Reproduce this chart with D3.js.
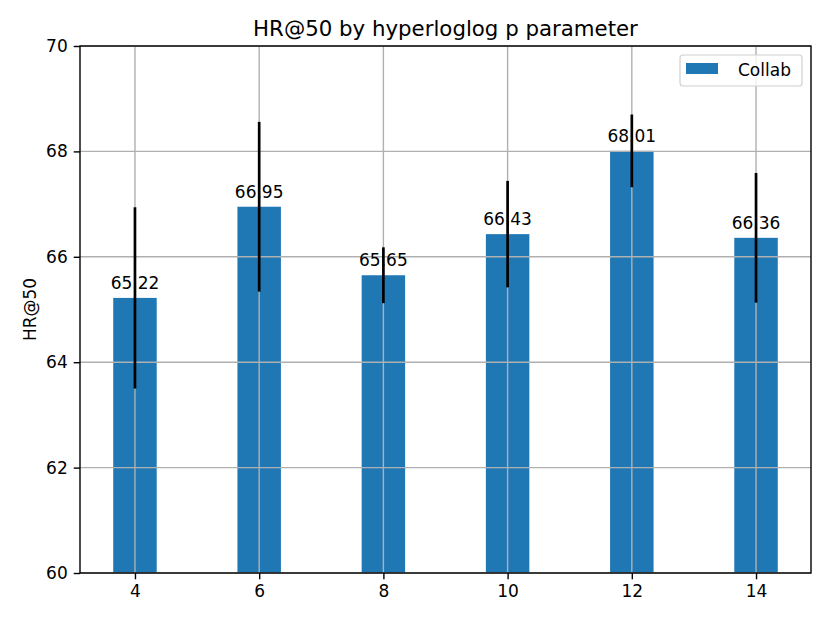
<!DOCTYPE html>
<html><head><meta charset="utf-8">
<script src="https://cdn.jsdelivr.net/npm/d3@7"></script>
<style>body{margin:0;background:#fff}svg{font-family:"DejaVu Sans",sans-serif}</style>
</head><body><svg id="c" width="830" height="623"></svg>
<script>
const categories = [4, 6, 8, 10, 12, 14];
const values = [65.22, 66.95, 65.65, 66.43, 68.01, 66.36];
const errors = [1.72, 1.61, 0.53, 1.01, 0.69, 1.23];
const yTicks = [60, 62, 64, 66, 68, 70];
const seriesName = "Collab";
const title = "HR@50 by hyperloglog p parameter";
const yLabel = "HR@50";

const svg = d3.select("#c");
const L = 80, R = 811, T = 46, B = 573;
const barW = 0.7;
const x = d3.scaleLinear().domain([3.115, 14.885]).range([L, R]);
const y = d3.scaleLinear().domain([60, 70]).range([B, T]);
const blue = "#1f77b4";
const fs = 17;

svg.append("rect").attr("width", 830).attr("height", 623).attr("fill", "#fff");

// bars
svg.append("g").selectAll("rect").data(categories).join("rect")
  .attr("x", d => x(d - barW / 2)).attr("width", d => x(d + barW / 2) - x(d - barW / 2))
  .attr("y", (d, i) => y(values[i])).attr("height", (d, i) => y(60) - y(values[i]))
  .attr("fill", blue);

// grid
const grid = svg.append("g").attr("stroke", "#b0b0b0").attr("stroke-width", 1.4);
grid.selectAll(".gx").data(categories).join("line")
  .attr("x1", d => x(d)).attr("x2", d => x(d))
  .attr("y1", T).attr("y2", B);
grid.selectAll(".gy").data(yTicks).join("line")
  .attr("x1", L).attr("x2", R)
  .attr("y1", d => y(d)).attr("y2", d => y(d));

// error bars
svg.append("g").selectAll("line").data(categories).join("line")
  .attr("x1", d => x(d)).attr("x2", d => x(d))
  .attr("y1", (d, i) => y(values[i] - errors[i])).attr("y2", (d, i) => y(values[i] + errors[i]))
  .attr("stroke", "#000").attr("stroke-width", 2.7);

// value labels
svg.append("g").selectAll("text").data(categories).join("text")
  .attr("x", d => x(d)).attr("y", (d, i) => y(values[i]) - 9)
  .attr("text-anchor", "middle").attr("font-size", fs).attr("fill", "#000")
  .text((d, i) => values[i].toFixed(2));

// axes
const xAxis = d3.axisBottom(x).tickValues(categories).tickSize(6.3).tickPadding(6).tickFormat(d3.format("d"));
const yAxis = d3.axisLeft(y).tickValues(yTicks).tickSize(6.3).tickPadding(6).tickFormat(d3.format("d"));
const gx = svg.append("g").attr("transform", `translate(0,${B})`).call(xAxis);
const gy = svg.append("g").attr("transform", `translate(${L},0)`).call(yAxis);
[gx, gy].forEach(g => {
  g.attr("font-size", fs).attr("font-family", "DejaVu Sans");
  g.select(".domain").remove();
  g.selectAll("text").attr("fill", "#000");
  g.selectAll("line").attr("stroke", "#000").attr("stroke-width", 1.4);
});

// frame
svg.append("rect").attr("x", L).attr("y", T).attr("width", R - L).attr("height", B - T)
  .attr("fill", "none").attr("stroke", "#000").attr("stroke-width", 1.4);

// title
svg.append("text").attr("x", (L + R) / 2).attr("y", T - 10.5).attr("text-anchor", "middle")
  .attr("font-size", 21.3).text(title);

// y label
svg.append("text").attr("transform", `translate(36,${(T + B) / 2}) rotate(-90)`)
  .attr("text-anchor", "middle").attr("font-size", fs).text(yLabel);

// legend
const lg = svg.append("g");
lg.append("rect").attr("x", 680).attr("y", 55).attr("width", 122).attr("height", 31).attr("rx", 3)
  .attr("fill", "#fff").attr("fill-opacity", 0.8).attr("stroke", "#d0d0d0").attr("stroke-width", 1.2);
lg.append("rect").attr("x", 686).attr("y", 63).attr("width", 32).attr("height", 11).attr("fill", blue);
lg.append("text").attr("x", 738).attr("y", 76).attr("font-size", fs).text(seriesName);
</script></body></html>
